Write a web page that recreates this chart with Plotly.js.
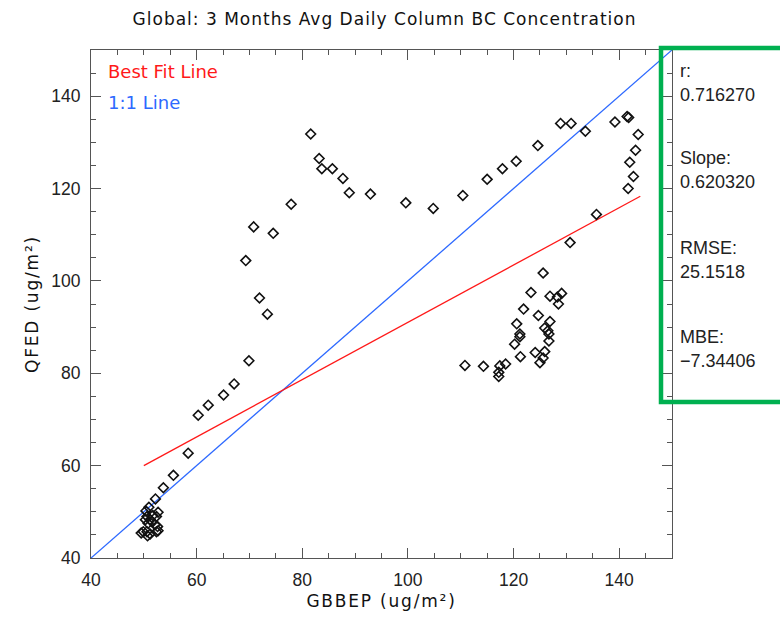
<!DOCTYPE html>
<html>
<head>
<meta charset="utf-8">
<script src="https://cdn.plot.ly/plotly-3.0.1.min.js"></script>
<style>
body{margin:0;padding:0;background:#fff;} #chart{width:780px;height:620px;}
#chart .gtitle{letter-spacing:1px;}
#chart .xtitle, #chart .ytitle{letter-spacing:1.8px;}
</style>
</head>
<body>
<div id="chart"></div>
<script>
// GBBEP (x) vs QFED (y), ug/m^2
const gbbep = [
  50.96, 50.4, 50.6, 50.3, 51.2, 51.7, 52.7, 52.4, 50.8, 51.5, 52.1, 52.6, 49.9, 49.5, 50.6, 51.2, 52.4, 52.7, 50.7,
  52.2, 53.7, 55.6, 58.4, 60.3, 62.2, 65.1, 67.1, 69.9, 69.3, 70.8, 71.9, 73.4, 74.5, 77.9,
  81.6, 83.2, 83.7, 85.7, 87.7, 88.9, 92.9, 99.6, 104.8, 110.4, 115.0, 117.9, 120.5, 124.6,
  128.9, 130.9, 133.6, 139.2, 141.5, 141.8, 143.6, 143.1, 142.0, 142.7, 141.7, 135.7, 130.7,
  125.6, 123.3, 126.9, 129.1, 128.3, 128.5, 121.9, 124.7, 120.6, 126.9, 125.9, 126.5, 121.2, 121.2,
  126.7, 126.7, 120.2, 121.3, 124.1, 125.9, 125.6, 125.0, 110.8, 114.3, 118.5, 117.4, 117.2, 117.2
];
const qfed = [
  51.0, 50.2, 49.0, 48.3, 48.3, 49.2, 49.9, 49.0, 47.5, 47.9, 47.2, 46.8, 45.7, 45.4, 45.7, 45.2, 45.7, 45.9, 44.8,
  52.8, 55.2, 57.9, 62.7, 70.9, 73.1, 75.3, 77.7, 82.7, 104.4, 111.7, 96.3, 92.8, 110.3, 116.6,
  131.8, 126.5, 124.3, 124.3, 122.2, 119.1, 118.8, 116.9, 115.7, 118.5, 122.0, 124.3, 125.9, 129.3,
  134.1, 134.1, 132.4, 134.4, 135.6, 135.4, 131.7, 128.3, 125.7, 122.6, 120.0, 114.4, 108.3,
  101.7, 97.5, 96.7, 97.3, 96.5, 95.0, 93.9, 92.5, 90.7, 91.2, 89.8, 89.2, 88.5, 87.9,
  88.5, 87.0, 86.3, 83.6, 84.5, 84.7, 83.3, 82.3, 81.7, 81.5, 82.0, 81.6, 80.2, 79.3
];
// Best-fit line parameters and 1:1 line extent
const fitSlope = 0.620320;
const fitIntercept = 29.0;
const fitXRange = [50, 144];
const oneToOne = [40, 150];
// Statistics panel
const statLabels = ['r:', 'Slope:', 'RMSE:', 'MBE:'];
const statValues = ['0.716270', '0.620320', '25.1518', '\u22127.34406'];
const legendLabels = ['Best Fit Line', '1:1 Line'];
const tickVals = [40, 60, 80, 100, 120, 140];

const fitY = fitXRange.map(v => fitIntercept + fitSlope * v);

const RED = 'rgb(255,25,25)';
const BLUE = 'rgb(45,105,255)';

const traces = [
  {x: oneToOne, y: oneToOne, mode: 'lines', line: {color: BLUE, width: 1.3}, hoverinfo: 'skip'},
  {x: fitXRange, y: fitY, mode: 'lines', line: {color: RED, width: 1.3}, hoverinfo: 'skip'},
  {x: gbbep, y: qfed, mode: 'markers', marker: {symbol: 'diamond-open', size: 7.5, color: '#111', line: {width: 1.6, color: '#111'}}}
];

// plot area in pixels: left 91, right 672, top 50, bottom 558
const L = 91, R = 672, T = 50, B = 558;
const px = v => (v - L) / (R - L);
const py = v => (B - v) / (B - T);

const annotations = [];
legendLabels.forEach((t, i) => {
  annotations.push({xref: 'paper', yref: 'paper', x: px(106), y: py([71, 102][i]), xanchor: 'left', yanchor: 'middle',
    text: t, showarrow: false, font: {family: 'DejaVu Sans, sans-serif', size: 18, color: i === 0 ? RED : BLUE}});
});
const groupY = [71, 158, 248, 337];
statLabels.forEach((t, i) => {
  annotations.push({xref: 'paper', yref: 'paper', x: px(678), y: py(groupY[i]), xanchor: 'left', yanchor: 'middle',
    text: t, showarrow: false, font: {family: 'Liberation Sans, Arial, sans-serif', size: 18, color: '#222'}});
  annotations.push({xref: 'paper', yref: 'paper', x: px(678), y: py(groupY[i] + 24), xanchor: 'left', yanchor: 'middle',
    text: statValues[i], showarrow: false, font: {family: 'Liberation Sans, Arial, sans-serif', size: 18, color: '#222'}});
});

const axisCommon = {
  range: [40, 150], tickvals: tickVals, ticks: 'inside', ticklen: 10, tickwidth: 1, tickcolor: '#555',
  minor: {dtick: 5, ticks: 'inside', ticklen: 5, tickcolor: '#555', tickwidth: 1},
  mirror: 'allticks', showline: true, linecolor: '#555', linewidth: 1, showgrid: false, zeroline: false,
  tickfont: {family: 'Liberation Sans, Arial, sans-serif', size: 17.5, color: '#222'}
};

const layout = {
  width: 780, height: 620,
  margin: {l: L, r: 780 - R, t: T, b: 620 - B},
  paper_bgcolor: '#fff', plot_bgcolor: '#fff',
  showlegend: false,
  title: {text: 'Global: 3 Months Avg Daily Column BC Concentration', x: 0.493, xanchor: 'center', y: 1 - 19 / 620, yanchor: 'middle',
    font: {family: 'DejaVu Sans, sans-serif', size: 17, color: '#111'}},
  xaxis: Object.assign({}, axisCommon, {
    title: {text: 'GBBEP (ug/m\u00b2)', standoff: 6, font: {family: 'DejaVu Sans, sans-serif', size: 17, color: '#111'}},
    ticklabelstandoff: 6
  }),
  yaxis: Object.assign({}, axisCommon, {
    title: {text: 'QFED (ug/m\u00b2)', standoff: 8, font: {family: 'DejaVu Sans, sans-serif', size: 17, color: '#111'}},
    ticklabelstandoff: 6
  }),
  shapes: [{type: 'rect', xref: 'paper', yref: 'paper', x0: px(661), x1: px(800), y0: py(402), y1: py(48),
    line: {color: 'rgb(0,176,80)', width: 4.5}, fillcolor: 'rgba(0,0,0,0)', layer: 'above'}],
  annotations: annotations
};

Plotly.newPlot('chart', traces, layout, {displayModeBar: false, staticPlot: true});
</script>
</body>
</html>
